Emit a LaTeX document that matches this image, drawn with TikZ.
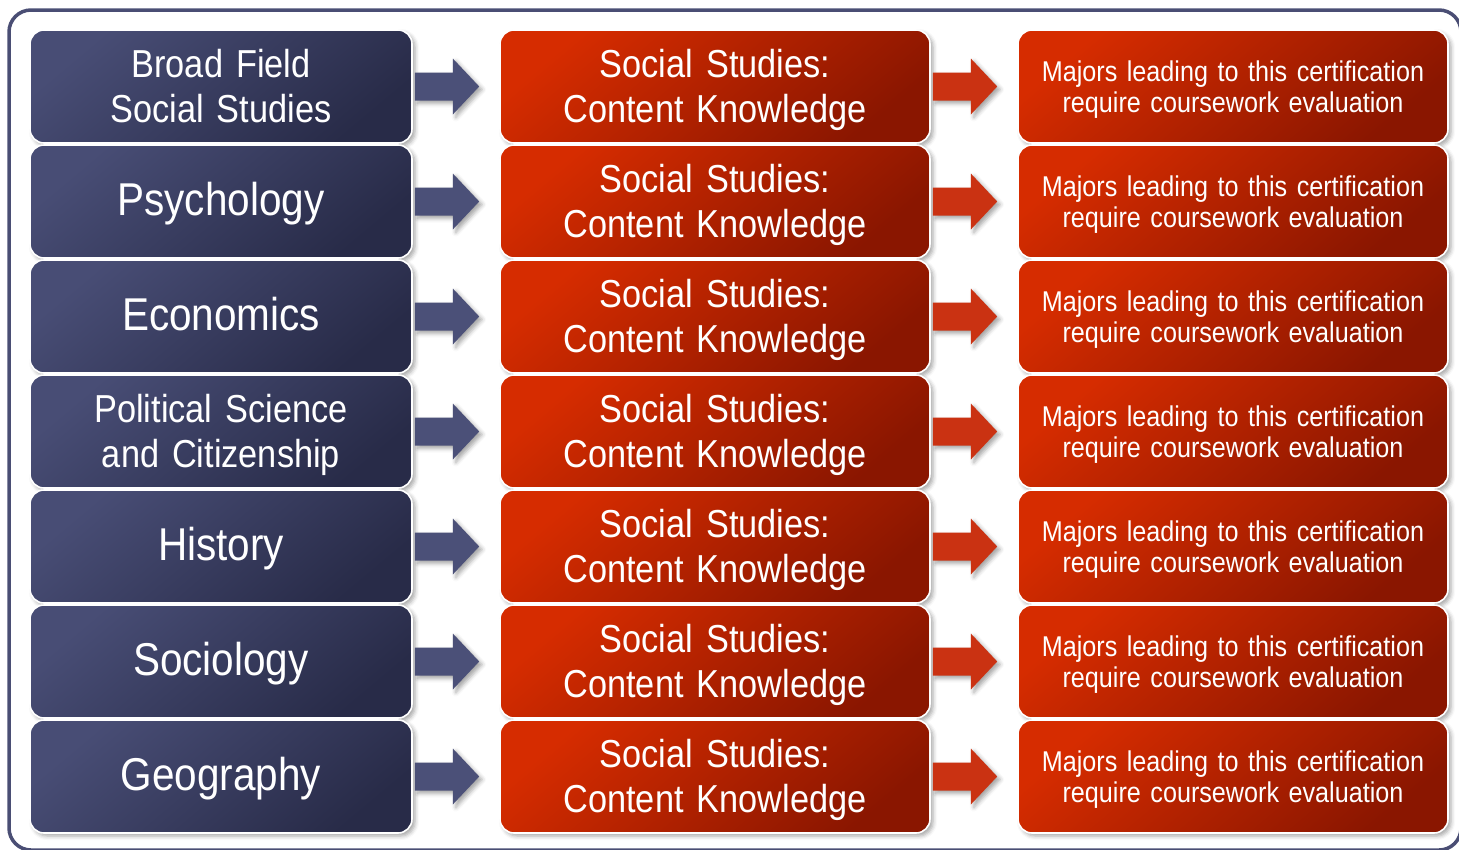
\documentclass[tikz,border=0pt]{standalone}
\usepackage{fontspec}
\setmainfont{Liberation Sans}[FakeStretch=0.88]
\usetikzlibrary{calc,shadows.blur}
\definecolor{bluetl}{RGB}{72,77,117}
\definecolor{bluebr}{RGB}{40,43,72}
\definecolor{redtl}{RGB}{214,44,0}
\definecolor{redbr}{RGB}{138,22,0}
\definecolor{bluearrow}{RGB}{75,80,120}
\definecolor{redarrow}{RGB}{202,50,18}
\definecolor{framecol}{RGB}{74,78,116}
\newcommand{\dn}[1]{\raisebox{-4pt}[\height][\depth]{\begin{tabular}{@{}c@{}}#1\end{tabular}}}
\tikzset{
  box/.style={rounded corners=14pt, draw=white, line width=1.6pt,
    minimum height=113pt, inner sep=0pt, text=white, align=center,
    blur shadow={shadow xshift=3pt, shadow yshift=-3pt, shadow blur radius=4pt, shadow opacity=35}},
  bluebox/.style={box, minimum width=382pt, text width=370pt,
    top color=bluetl, bottom color=bluebr, shading angle=40},
  redbox/.style={box, minimum width=430pt, text width=420pt,
    top color=redtl, bottom color=redbr, shading angle=40},
  bigtxt/.style={font=\fontsize{46}{50}\selectfont},
  midtxt/.style={font=\fontsize{39}{45}\selectfont},
  smltxt/.style={font=\fontsize{28.6}{31.5}\selectfont},
  arr/.style={draw=none, blur shadow={shadow xshift=3pt, shadow yshift=-3pt, shadow blur radius=4pt, shadow opacity=35}},
}
\begin{document}
\begin{tikzpicture}[x=1pt,y=-1pt]
\useasboundingbox (0,0) rectangle (1459,849);
\begin{scope}
\clip (0,0) rectangle (1459,849);
\draw[framecol, line width=3.5pt, rounded corners=22pt] (9,10) rectangle (1461,850);
\end{scope}
\foreach \i in {1,...,7}{
  \pgfmathsetmacro{\cy}{86.5+115*(\i-1)}
  \coordinate (lc\i) at (221,\cy);
  \coordinate (mc\i) at (715,\cy);
  \coordinate (rc\i) at (1233,\cy);
}
\foreach \i/\lab/\st in {1/{Broad Field\\Social Studies}/midtxt, 2/Psychology/bigtxt, 3/Economics/bigtxt, 4/{Political Science\\and Citizenship}/midtxt, 5/History/bigtxt, 6/Sociology/bigtxt, 7/Geography/bigtxt}{
  \node[bluebox, \st] (L\i) at (lc\i) {\dn{\lab}};
  \node[redbox, midtxt] (M\i) at (mc\i) {\dn{Social Studies:\\Content Knowledge}};
  \node[redbox, smltxt] (R\i) at (rc\i) {\dn{Majors leading to this certification\\require coursework evaluation}};
  \fill[bluearrow, arr] ($(L\i.east)+(2,14)$) -- ($(L\i.east)+(40,14)$) -- ($(L\i.east)+(40,28)$)
     -- ($(M\i.west)+(-20,0)$) -- ($(L\i.east)+(40,-28)$) -- ($(L\i.east)+(40,-14)$) -- ($(L\i.east)+(2,-14)$) -- cycle;
  \fill[redarrow, arr] ($(M\i.east)+(2,14)$) -- ($(M\i.east)+(40,14)$) -- ($(M\i.east)+(40,28)$)
     -- ($(R\i.west)+(-20,0)$) -- ($(M\i.east)+(40,-28)$) -- ($(M\i.east)+(40,-14)$) -- ($(M\i.east)+(2,-14)$) -- cycle;
}
\end{tikzpicture}
\end{document}
